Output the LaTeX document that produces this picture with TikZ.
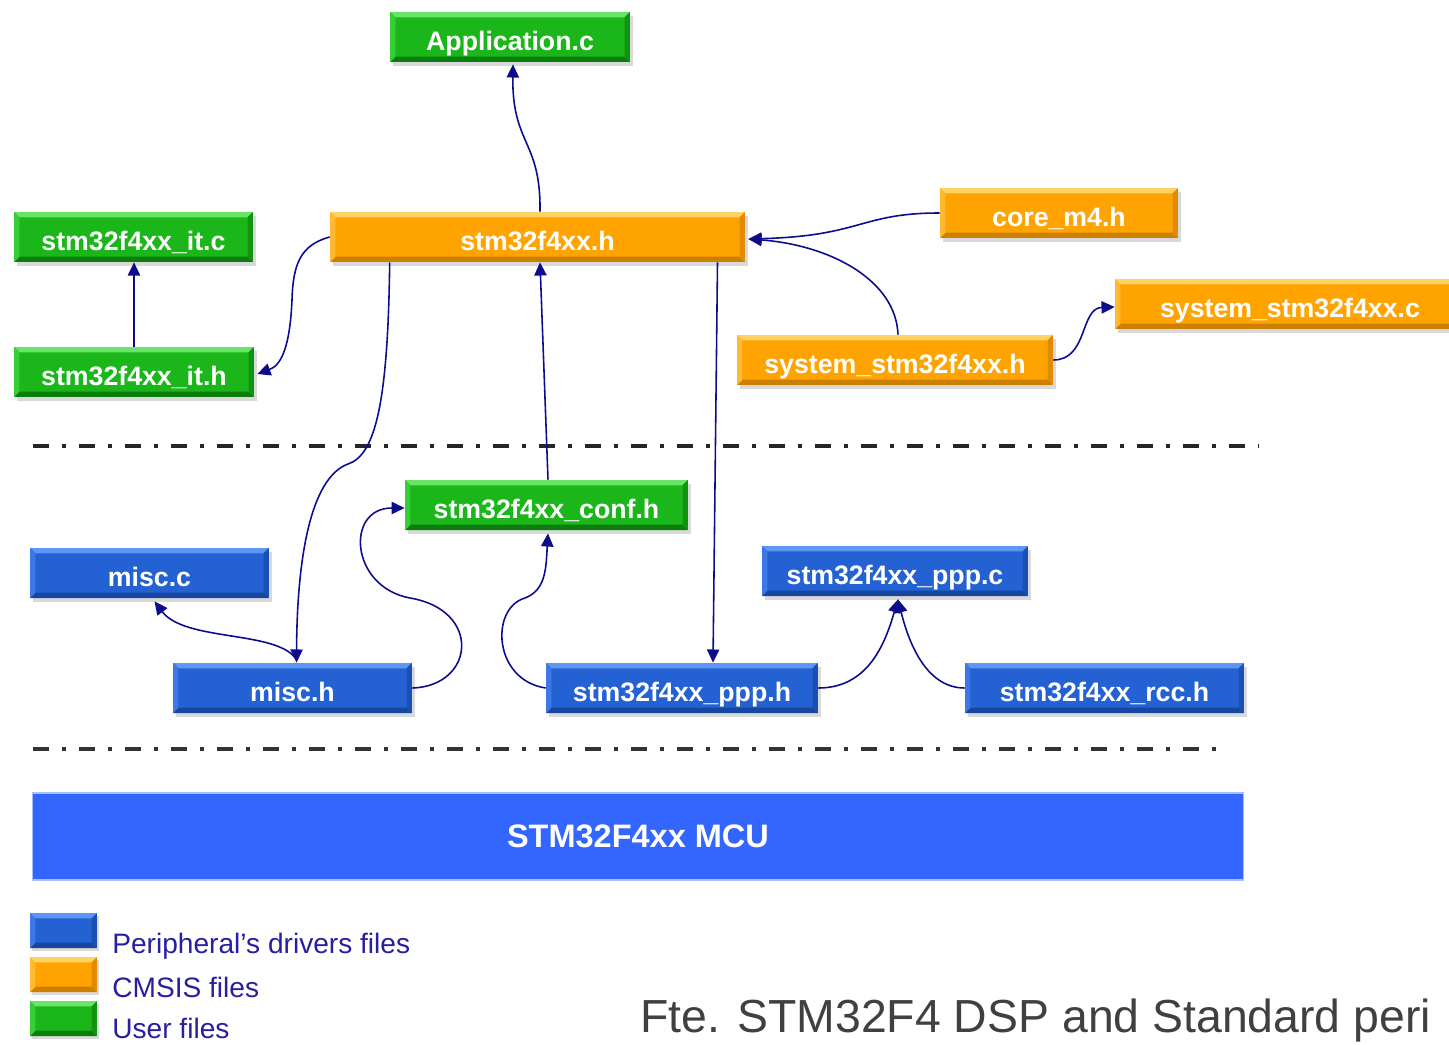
\documentclass[tikz,border=0pt]{standalone}
\usepackage{fontspec}
\setmainfont{Liberation Sans}
\usetikzlibrary{arrows.meta,calc,shadows}

\definecolor{gmain}{RGB}{26,182,26}
\definecolor{gtop}{RGB}{105,228,105}
\definecolor{gbot}{RGB}{10,125,10}
\definecolor{gleft}{RGB}{55,205,55}
\definecolor{gright}{RGB}{16,148,16}
\definecolor{omain}{RGB}{255,163,0}
\definecolor{otop}{RGB}{255,210,100}
\definecolor{obot}{RGB}{205,128,0}
\definecolor{oleft}{RGB}{255,185,50}
\definecolor{oright}{RGB}{225,140,0}
\definecolor{bmain}{RGB}{36,98,212}
\definecolor{btop}{RGB}{95,150,245}
\definecolor{bbot}{RGB}{22,70,160}
\definecolor{bleft}{RGB}{60,120,230}
\definecolor{bright}{RGB}{26,80,180}
\definecolor{arrowc}{RGB}{12,12,140}
\definecolor{mcu}{RGB}{51,102,255}
\definecolor{legtext}{RGB}{40,30,160}
\definecolor{captc}{RGB}{64,64,64}

\newcommand\boxfont{\fontsize{15.2}{18}\selectfont\bfseries}
\newcommand\bv{3pt}

\tikzset{
  bevel/.style n args={5}{fill=#1, path picture={
    \path (path picture bounding box.north west) coordinate (pNW)
          (path picture bounding box.north east) coordinate (pNE)
          (path picture bounding box.south west) coordinate (pSW)
          (path picture bounding box.south east) coordinate (pSE);
    \fill[#2] (pNW) -- (pNE) -- ([shift={(-\bv,-\bv)}]pNE) -- ([shift={(\bv,-\bv)}]pNW) -- cycle;
    \fill[#3] (pSW) -- (pSE) -- ([shift={(-\bv,\bv)}]pSE) -- ([shift={(\bv,\bv)}]pSW) -- cycle;
    \fill[#4] (pNW) -- (pSW) -- ([shift={(\bv,\bv)}]pSW) -- ([shift={(\bv,-\bv)}]pNW) -- cycle;
    \fill[#5] (pNE) -- (pSE) -- ([shift={(-\bv,\bv)}]pSE) -- ([shift={(-\bv,-\bv)}]pNE) -- cycle;
  }},
  filebox/.style={rectangle, inner sep=0pt, minimum height=1cm, text=white, font=\boxfont,
    text height=15pt, text depth=0pt,
    drop shadow={shadow xshift=1.5pt,shadow yshift=-2.5pt,opacity=0.3}},
  greenbox/.style={filebox, bevel={gmain}{gtop}{gbot}{gleft}{gright}},
  orangebox/.style={filebox, bevel={omain}{otop}{obot}{oleft}{oright}},
  bluebox/.style={filebox, bevel={bmain}{btop}{bbot}{bleft}{bright}},
  legbox/.style={rectangle, inner sep=0pt, minimum width=1.34cm, minimum height=0.7cm,
    drop shadow={shadow xshift=1pt,shadow yshift=-1.5pt,opacity=0.3}},
  arr/.style={draw=arrowc, line width=0.9pt, -{Triangle[length=7.5pt,width=7pt]}},
  sepline/.style={line width=2.7pt, black!85, dash pattern=on 0.32cm off 0.26cm on 0.08cm off 0.26cm},
  legtxt/.style={anchor=base west, inner sep=0pt, text=legtext, font=\fontsize{16}{18}\selectfont},
}

\begin{document}
\begin{tikzpicture}[x=0.02cm,y=-0.02cm]
\useasboundingbox (0,0) rectangle (1449,1044);
\clip (0,0) rectangle (1449,1044);

% separators
\coordinate (s1a) at (33,446);
\coordinate (s1b) at (1258,446);
\coordinate (s2a) at (33,749);
\coordinate (s2b) at (1228,749);
\draw[sepline] (s1a) -- (s1b);
\draw[sepline, line width=2.3pt, black!80] (s2a) -- (s2b);

% boxes
\node[greenbox, minimum width=4.8cm] (app) at (510,37) {Application.c};
\node[greenbox, minimum width=4.78cm] (itc) at (133.5,237) {stm32f4xx\_it.c};
\node[greenbox, minimum width=4.8cm] (ith) at (134,372) {stm32f4xx\_it.h};
\node[orangebox, minimum width=8.3cm] (stmh) at (537.5,237) {stm32f4xx.h};
\node[orangebox, minimum width=4.76cm] (core) at (1059,213) {core\_m4.h};
\node[orangebox, minimum width=7.0cm] (sysc) at (1290,304) {system\_stm32f4xx.c};
\node[orangebox, minimum width=6.32cm] (sysh) at (895,360) {system\_stm32f4xx.h};
\node[greenbox, minimum width=5.66cm] (conf) at (546.5,505) {stm32f4xx\_conf.h};
\node[bluebox, minimum width=4.78cm] (miscc) at (149.5,573) {misc.c};
\node[bluebox, minimum width=4.78cm] (misch) at (292.5,688) {misc.h};
\node[bluebox, minimum width=5.32cm] (pppc) at (895,571) {stm32f4xx\_ppp.c};
\node[bluebox, minimum width=5.44cm] (ppph) at (682,688) {stm32f4xx\_ppp.h};
\node[bluebox, minimum width=5.58cm] (rcch) at (1104.5,688) {stm32f4xx\_rcc.h};

% MCU bar
\node[rectangle, inner sep=0pt, fill=mcu, draw={rgb,255:red,170;green,190;blue,255}, line width=0.6pt,
      minimum width=24.24cm, minimum height=1.74cm, text=white,
      font=\fontsize{18.5}{22}\selectfont\bfseries] (mcubar) at (638,836.5) {STM32F4xx MCU};

% connectors
\draw[arr] ($(stmh.north)+(2.5,0)$) .. controls (541,140) and (512,145) .. ($(app.south)+(3,2)$);
\draw[arr] (ith.north) -- (ith.north |- itc.south);
\draw[arr] (stmh.west) .. controls (300,245) and (293,265) .. (292,300)
           .. controls (290,345) and (282,365) .. ($(ith.east)+(3,2)$);
\draw[arr] (core.west) .. controls (860,213) and (862,236) .. ($(stmh.east)+(3,2)$);
\draw[arr] ($(sysh.north)+(3,0)$) .. controls (896,280) and (830,245) .. ($(stmh.east)+(3,2)$);
\draw[arr] (sysh.east) .. controls (1088,360) and (1080,308) .. ($(sysc.west)+(0,3)$);
\draw[arr] ($(stmh.south west)+(60,0)$) .. controls (388,400) and (376,455) .. (348,464)
           .. controls (310,478) and (297,560) .. ($(misch.north)+(4,0)$);
\draw[arr] ($(misch.north)+(4,-3)$) .. controls (278,630) and (185,642) .. ($(miscc.south)+(5,3)$);
\draw[arr] (misch.east) .. controls (475,686) and (482,610) .. (410,598)
           .. controls (350,587) and (345,508) .. ($(conf.west)+(0,3)$);
\draw[arr] (ppph.west) .. controls (493,680) and (490,608) .. (525,598)
           .. controls (546,590) and (546,568) .. ($(conf.south)+(1.5,3)$);
\draw[arr] ($(conf.north)+(1.5,0)$) -- ($(stmh.south)+(2.5,0)$);
\draw[arr] ($(stmh.south)+(180,0)$) -- ($(ppph.north)+(31,0)$);
\draw[arr] (ppph.east) .. controls (870,688) and (886,640) .. ($(pppc.south)+(3,3)$);
\draw[arr] (rcch.west) .. controls (925,688) and (908,640) .. ($(pppc.south)+(3,3)$);

% legend
\node[legbox, bevel={bmain}{btop}{bbot}{bleft}{bright}] (leg1) at (63.5,930.5) {};
\node[legbox, bevel={omain}{otop}{obot}{oleft}{oright}] (leg2) at (63.5,974.5) {};
\node[legbox, bevel={gmain}{gtop}{gbot}{gleft}{gright}] (leg3) at (63.5,1018.5) {};
\node[legtxt] (lt1) at (112,953) {Peripheral’s drivers files};
\node[legtxt] (lt2) at (112,997) {CMSIS files};
\node[legtxt] (lt3) at (112,1038) {User files};

% caption
\node[anchor=base west, inner sep=0pt, text=captc, font=\fontsize{26.4}{30}\selectfont] (capt) at (640,1032) {Fte. STM32F4 DSP and Standard peri};
\end{tikzpicture}
\end{document}
